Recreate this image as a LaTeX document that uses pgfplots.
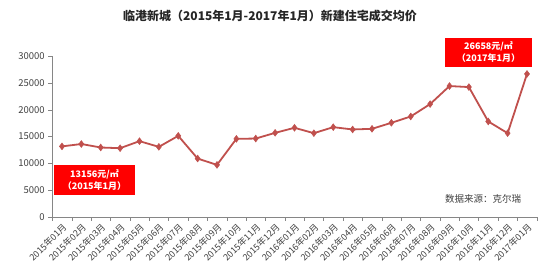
\documentclass[border=0pt]{standalone}
\usepackage{pgfplots}
\pgfplotsset{compat=1.18}
\usepackage{fontspec}
\setmainfont{Noto Sans CJK SC}
\definecolor{linered}{RGB}{192,80,77}
\definecolor{axgray}{RGB}{134,134,134}
\definecolor{txtgray}{RGB}{64,64,64}
\begin{document}
\begin{tikzpicture}[x=1pt,y=1pt]
\useasboundingbox (0,0) rectangle (550,275);
\begin{axis}[
  at={(52.3pt,58pt)}, anchor=south west,
  scale only axis, width=484.4pt, height=161pt,
  xmin=-0.5, xmax=24.5, ymin=0, ymax=30000,
  axis lines=left,
  axis line style={-, draw=axgray},
  xtick={-0.5,0.5,...,24.5},
  x tick label as interval,
  xticklabels={2015年01月,2015年02月,2015年03月,2015年04月,2015年05月,2015年06月,2015年07月,2015年08月,2015年09月,2015年10月,2015年11月,2015年12月,2016年01月,2016年02月,2016年03月,2016年04月,2016年05月,2016年06月,2016年07月,2016年08月,2016年09月,2016年10月,2016年11月,2016年12月,2017年01月},
  x tick label style={rotate=45, anchor=north east, font=\fontsize{9}{10}\selectfont, text=txtgray, inner sep=1pt},
  ytick={0,5000,...,30000},
  y tick label style={font=\fontsize{9.5}{11}\selectfont, text=txtgray},
  /pgf/number format/assume math mode=true,
  scaled y ticks=false,
  yticklabel style={/pgf/number format/.cd, 1000 sep={}},
  tick align=outside,
  major tick length=4pt,
  tick style={draw=axgray},
  clip=false,
]
\addplot[linered, line width=1.8pt, mark=diamond*, mark size=3.4pt, mark options={fill=linered, draw=linered, line width=0.5pt}] coordinates {
(0,13156) (1,13600) (2,12950) (3,12820) (4,14130) (5,13070) (6,15120) (7,10890) (8,9710) (9,14560) (10,14620) (11,15680) (12,16620) (13,15620) (14,16740) (15,16310) (16,16430) (17,17550) (18,18730) (19,21040) (20,24400) (21,24210) (22,17800) (23,15620) (24,26658)
};
\end{axis}
\node[font=\bfseries\fontsize{12}{14}\selectfont, text=black!85] at (270,259) {临港新城（2015年1月-2017年1月）新建住宅成交均价};
\node[fill=red, minimum width=81pt, minimum height=30pt, inner sep=0pt, text=white, font=\bfseries\fontsize{9}{12}\selectfont, align=center] at (94.5,95) {13156元/㎡\\（2015年1月）};
\node[fill=red, minimum width=87pt, minimum height=29pt, inner sep=0pt, text=white, font=\bfseries\fontsize{9}{12}\selectfont, align=center] at (488.5,222.5) {26658元/㎡\\（2017年1月）};
\node[font=\fontsize{9.5}{11}\selectfont, text=txtgray] at (483,76) {数据来源：克尔瑞};
\end{tikzpicture}
\end{document}
